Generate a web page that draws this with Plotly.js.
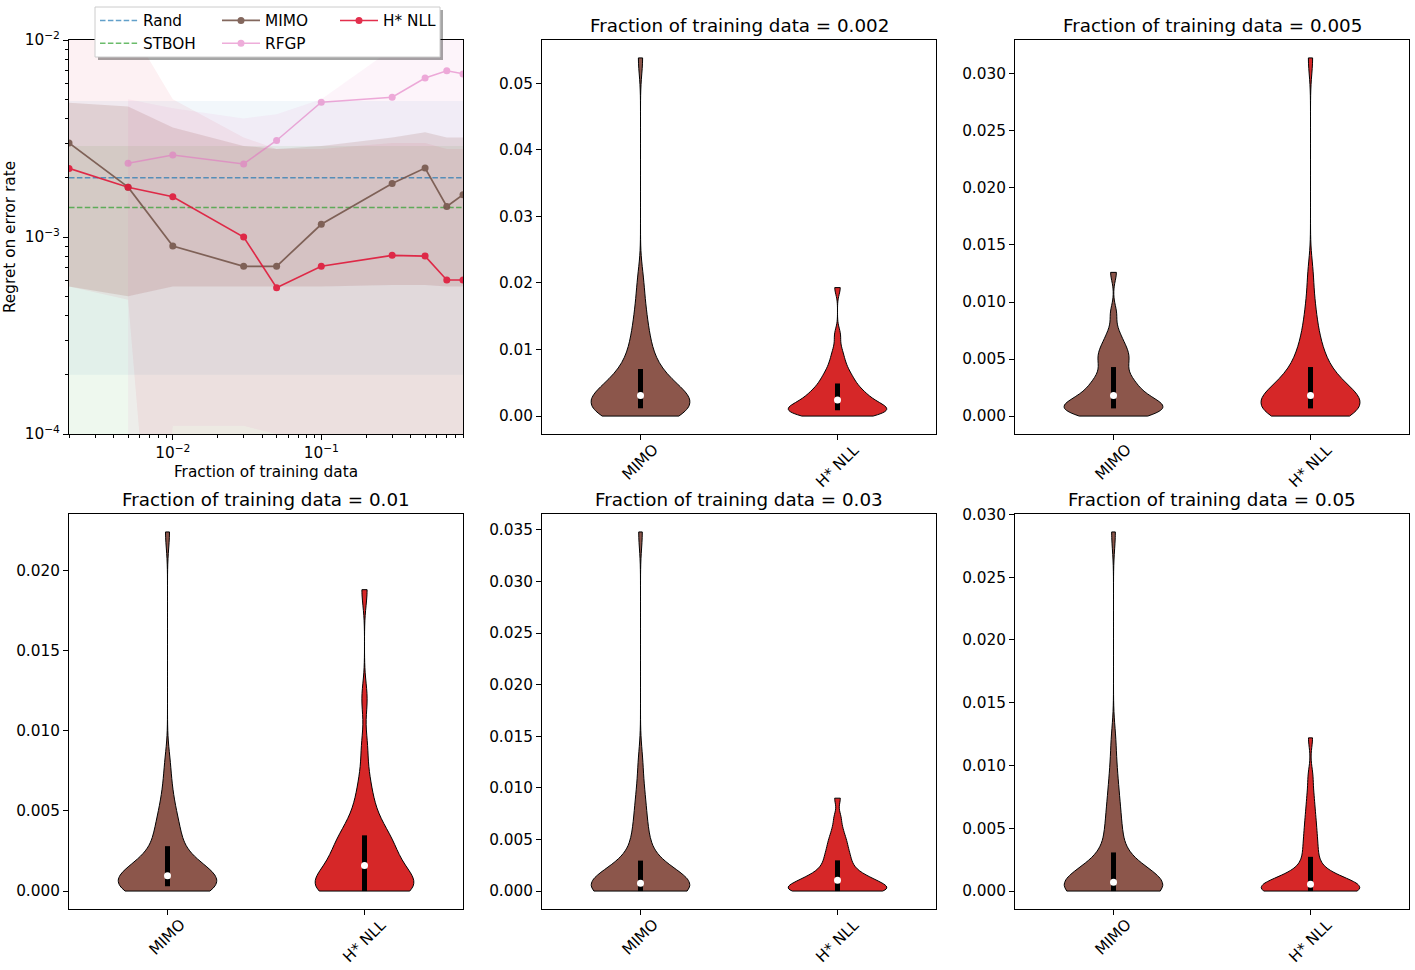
<!DOCTYPE html>
<html>
<head>
<meta charset="utf-8">
<script src="https://cdn.plot.ly/plotly-3.0.1.min.js"></script>
<style>
  body { margin: 0; background: #fff; }
  #chart { width: 1415px; height: 970px; }
</style>
</head>
<body>
<div id="chart"></div>
<script>
// ---- panel 1: regret vs fraction of training data (log-log) ----
const fractions = [0.002, 0.005, 0.01, 0.03, 0.05, 0.1, 0.3, 0.5, 0.7, 0.9];

const randRegret = 2.0e-3, randLow = 2.0e-4, randHigh = 4.9e-3;
const stbohRegret = 1.41e-3, stbohLow = 1e-6, stbohHigh = 2.9e-3;

const mimoRegret = [3.0e-3, 1.79e-3, 9.0e-4, 7.1e-4, 7.1e-4, 1.16e-3, 1.87e-3, 2.24e-3, 1.43e-3, 1.64e-3];
const mimoLow    = [5.6e-4, 5.0e-4, 5.6e-4, 5.6e-4, 5.6e-4, 5.6e-4, 5.7e-4, 5.7e-4, 5.6e-4, 5.6e-4];
const mimoHigh   = [4.8e-3, 4.6e-3, 3.6e-3, 2.9e-3, 2.8e-3, 2.9e-3, 3.2e-3, 3.4e-3, 3.2e-3, 3.2e-3];

const rfgpRegret = [null, 2.37e-3, 2.61e-3, 2.35e-3, 3.09e-3, 4.83e-3, 5.12e-3, 6.41e-3, 6.98e-3, 6.73e-3];
const rfgpLow    = [null, 1e-6, 1.1e-4, 1.1e-4, 1.0e-4, 9e-5, 1e-6, 1e-6, 1e-6, 1e-6];
const rfgpHigh   = [null, 5.0e-3, 4.5e-3, 4.0e-3, 4.2e-3, 5.0e-3, 9.0e-3, 1.3e-2, 1.5e-2, 1.5e-2];

const hnllRegret = [2.23e-3, 1.79e-3, 1.60e-3, 1.0e-3, 5.53e-4, 7.1e-4, 8.07e-4, 8.0e-4, 6.05e-4, 6.05e-4];
const hnllLow    = [5.6e-4, 4.8e-4, 1e-6, 1e-6, 1e-6, 1e-6, 1e-6, 1e-6, 1e-6, 1e-6];
const hnllHigh   = [1.5e-2, 1.2e-2, 5.0e-3, 3.2e-3, 2.8e-3, 2.8e-3, 3.0e-3, 3.0e-3, 2.8e-3, 2.8e-3];

// ---- violin panels: per-task regret samples ----
const methods = ['MIMO', 'H* NLL'];
const panelFractions = ['0.002', '0.005', '0.01', '0.03', '0.05'];

const mimo002 = [0.0000, 0.0002, 0.0003, 0.0005, 0.0006, 0.0007, 0.0008, 0.0009, 0.0010, 0.0011,
  0.0012, 0.0014, 0.0016, 0.0018, 0.0020, 0.0022, 0.0024, 0.0026, 0.0028, 0.0030,
  0.0032, 0.0035, 0.0038, 0.0041, 0.0045, 0.0049, 0.0054, 0.0059, 0.0064, 0.0069,
  0.0076, 0.0085, 0.0095, 0.0106, 0.0118, 0.0132, 0.0150, 0.0172, 0.0205, 0.0538];
const hnll002 = [0.0000, 0.0001, 0.0002, 0.0003, 0.0004, 0.0005, 0.0006, 0.0007, 0.0007, 0.0008,
  0.0009, 0.0010, 0.0011, 0.0012, 0.0013, 0.0014, 0.0016, 0.0018, 0.0020, 0.0023,
  0.0025, 0.0027, 0.0029, 0.0031, 0.0033, 0.0035, 0.0038, 0.0041, 0.0044, 0.0048,
  0.0052, 0.0056, 0.0060, 0.0065, 0.0071, 0.0079, 0.0088, 0.0100, 0.0122, 0.0193];

const mimo005 = [0.0000, 0.0001, 0.0002, 0.0003, 0.0003, 0.0004, 0.0005, 0.0005, 0.0006, 0.0006,
  0.0007, 0.0008, 0.0009, 0.0010, 0.0011, 0.0012, 0.0013, 0.0014, 0.0015, 0.0017,
  0.0019, 0.0021, 0.0023, 0.0025, 0.0027, 0.0029, 0.0031, 0.0034, 0.0037, 0.0042,
  0.0046, 0.0049, 0.0052, 0.0055, 0.0058, 0.0062, 0.0067, 0.0074, 0.0090, 0.0126];
const hnll005 = [0.0000, 0.0001, 0.0002, 0.0003, 0.0003, 0.0004, 0.0005, 0.0005, 0.0006, 0.0006,
  0.0007, 0.0008, 0.0009, 0.0010, 0.0011, 0.0012, 0.0013, 0.0014, 0.0015, 0.0017,
  0.0019, 0.0021, 0.0023, 0.0025, 0.0027, 0.0029, 0.0031, 0.0034, 0.0037, 0.0042,
  0.0046, 0.0050, 0.0055, 0.0061, 0.0068, 0.0077, 0.0088, 0.0102, 0.0125, 0.0314];

const mimo01 = [0.0000, 0.0000, 0.0001, 0.0001, 0.0001, 0.0002, 0.0002, 0.0002, 0.0002, 0.0003,
  0.0003, 0.0004, 0.0004, 0.0005, 0.0005, 0.0006, 0.0007, 0.0007, 0.0008, 0.0009,
  0.0010, 0.0011, 0.0012, 0.0013, 0.0014, 0.0016, 0.0018, 0.0020, 0.0023, 0.0027,
  0.0031, 0.0034, 0.0037, 0.0041, 0.0045, 0.0050, 0.0057, 0.0066, 0.0080, 0.0224];
const hnll01 = [0.0000, 0.0000, 0.0000, 0.0000, 0.0000, 0.0000, 0.0000, 0.0000, 0.0000, 0.0000,
  0.0000, 0.0002, 0.0004, 0.0006, 0.0008, 0.0010, 0.0011, 0.0012, 0.0013, 0.0015,
  0.0017, 0.0019, 0.0021, 0.0023, 0.0025, 0.0027, 0.0029, 0.0031, 0.0033, 0.0034,
  0.0037, 0.0040, 0.0044, 0.0049, 0.0055, 0.0062, 0.0072, 0.0090, 0.0120, 0.0188];

const mimo03 = [0.0000, 0.0000, 0.0000, 0.0000, 0.0000, 0.0000, 0.0000, 0.0000, 0.0000, 0.0000,
  0.0000, 0.0001, 0.0002, 0.0003, 0.0004, 0.0005, 0.0005, 0.0006, 0.0007, 0.0007,
  0.0008, 0.0009, 0.0010, 0.0011, 0.0012, 0.0014, 0.0016, 0.0019, 0.0023, 0.0028,
  0.0034, 0.0040, 0.0047, 0.0055, 0.0064, 0.0074, 0.0086, 0.0100, 0.0125, 0.0348];
const hnll03 = [0.0000, 0.0000, 0.0000, 0.0000, 0.0000, 0.0000, 0.0000, 0.0000, 0.0000, 0.0000,
  0.0000, 0.0002, 0.0003, 0.0005, 0.0006, 0.0007, 0.0008, 0.0009, 0.0010, 0.0010,
  0.0011, 0.0012, 0.0013, 0.0015, 0.0017, 0.0019, 0.0021, 0.0023, 0.0026, 0.0029,
  0.0032, 0.0035, 0.0038, 0.0042, 0.0046, 0.0050, 0.0055, 0.0062, 0.0072, 0.0090];

const mimo05 = [0.0000, 0.0000, 0.0000, 0.0000, 0.0000, 0.0000, 0.0000, 0.0000, 0.0000, 0.0000,
  0.0000, 0.0001, 0.0002, 0.0002, 0.0003, 0.0004, 0.0005, 0.0005, 0.0006, 0.0007,
  0.0007, 0.0008, 0.0009, 0.0010, 0.0012, 0.0014, 0.0016, 0.0019, 0.0023, 0.0029,
  0.0036, 0.0042, 0.0049, 0.0056, 0.0064, 0.0073, 0.0084, 0.0098, 0.0120, 0.0286];
const hnll05 = [0.0000, 0.0000, 0.0000, 0.0000, 0.0000, 0.0000, 0.0000, 0.0000, 0.0000, 0.0000,
  0.0000, 0.0000, 0.0001, 0.0001, 0.0002, 0.0003, 0.0003, 0.0004, 0.0004, 0.0005,
  0.0006, 0.0006, 0.0007, 0.0008, 0.0010, 0.0012, 0.0014, 0.0017, 0.0021, 0.0026,
  0.0031, 0.0036, 0.0041, 0.0047, 0.0053, 0.0060, 0.0068, 0.0078, 0.0092, 0.0122];

const mimoSets = [mimo002, mimo005, mimo01, mimo03, mimo05];
const hnllSets = [hnll002, hnll005, hnll01, hnll03, hnll05];

// ---- colours ----
const C = {
  rand: '#1f77b4', stboh: '#2ca02c', mimo: '#8c564b', rfgp: '#e377c2',
  hnll: '#e0193a', mimoViolin: '#8c564b', hnllViolin: '#d62728'
};

// ---- helpers ----
function pct(arr, p) {
  const s = [...arr].sort((a, b) => a - b);
  const i = p * (s.length - 1), lo = Math.floor(i), hi = Math.ceil(i);
  return s[lo] + (s[hi] - s[lo]) * (i - lo);
}
// Scott's rule, narrowed a little so the kde keeps the sharp necks of the original
function kdeBw(arr) {
  const n = arr.length, m = arr.reduce((a, b) => a + b, 0) / n;
  const sd = Math.sqrt(arr.reduce((a, b) => a + (b - m) ** 2, 0) / (n - 1));
  return 0.55 * sd * Math.pow(n, -0.2);
}
function keep(xs, ys) {
  const ox = [], oy = [];
  ys.forEach((v, i) => { if (v !== null) { ox.push(xs[i]); oy.push(v); } });
  return [ox, oy];
}
function rgba(hex, a) {
  const n = parseInt(hex.slice(1), 16);
  return `rgba(${n >> 16},${(n >> 8) & 255},${n & 255},${a})`;
}

const traces = [];

// shaded bands (lower trace, then upper trace filled to it)
function band(low, high, color, alpha) {
  const [xl, yl] = keep(fractions, low);
  const [xh, yh] = keep(fractions, high);
  traces.push({ x: xl, y: yl, mode: 'lines', line: { width: 0 }, showlegend: false, hoverinfo: 'skip', xaxis: 'x', yaxis: 'y' });
  traces.push({ x: xh, y: yh, mode: 'lines', line: { width: 0 }, fill: 'tonexty', fillcolor: rgba(color, alpha),
    showlegend: false, hoverinfo: 'skip', xaxis: 'x', yaxis: 'y' });
}
const xEnds = [fractions[0], fractions[fractions.length - 1]];
band(fractions.map(() => randLow), fractions.map(() => randHigh), C.rand, 0.06);
band(fractions.map(() => stbohLow), fractions.map(() => stbohHigh), C.stboh, 0.08);
band(mimoLow, mimoHigh, C.mimo, 0.17);
band(rfgpLow, rfgpHigh, C.rfgp, 0.08);
band(hnllLow, hnllHigh, C.hnll, 0.06);

// lines
traces.push({ name: 'Rand', x: xEnds, y: [randRegret, randRegret], mode: 'lines', legend: 'legend',
  line: { color: C.rand, width: 1.5, dash: '5.5px,2.4px' }, opacity: 0.7, xaxis: 'x', yaxis: 'y' });
traces.push({ name: 'STBOH', x: xEnds, y: [stbohRegret, stbohRegret], mode: 'lines', legend: 'legend',
  line: { color: C.stboh, width: 1.5, dash: '5.5px,2.4px' }, opacity: 0.7, xaxis: 'x', yaxis: 'y' });
traces.push({ name: 'MIMO', x: fractions, y: mimoRegret, mode: 'lines+markers', legend: 'legend2',
  line: { color: '#76574c', width: 1.7 }, marker: { color: '#76574c', size: 7 }, opacity: 0.9, xaxis: 'x', yaxis: 'y' });
{
  const [rx, ry] = keep(fractions, rfgpRegret);
  traces.push({ name: 'RFGP', x: rx, y: ry, mode: 'lines+markers', legend: 'legend2',
    line: { color: C.rfgp, width: 1.5 }, marker: { color: C.rfgp, size: 7 }, opacity: 0.6, xaxis: 'x', yaxis: 'y' });
}
traces.push({ name: 'H* NLL', x: fractions, y: hnllRegret, mode: 'lines+markers', legend: 'legend3',
  line: { color: C.hnll, width: 1.6 }, marker: { color: C.hnll, size: 7 }, opacity: 0.9, xaxis: 'x', yaxis: 'y' });

// ---- layout ----
const W = 1415, H = 970;
const colX = [[69, 463], [542, 936], [1015, 1409]];
const rowY = [[40, 434], [514, 909]];
const dx = c => [colX[c][0] / W, colX[c][1] / W];
const dy = r => [1 - rowY[r][1] / H, 1 - rowY[r][0] / H];

const tickFont = { family: 'DejaVu Sans', size: 15.3, color: 'black' };
function frame(extra) {
  return Object.assign({
    showline: true, mirror: true, linecolor: 'black', linewidth: 1,
    ticks: 'outside', ticklen: 5, tickcolor: 'black', tickwidth: 1,
    showgrid: false, zeroline: false, tickfont: tickFont, fixedrange: true
  }, extra);
}
const legendBase = { xanchor: 'left', y: 1 - 4 / H, yanchor: 'top', bgcolor: 'rgba(0,0,0,0)', borderwidth: 0,
  itemwidth: 38, tracegroupgap: 0, traceorder: 'normal', font: { size: 15.3 } };

const layout = {
  width: W, height: H,
  margin: { l: 0, r: 0, t: 0, b: 0 },
  paper_bgcolor: 'white', plot_bgcolor: 'white',
  font: { family: 'DejaVu Sans', size: 15.3, color: 'black' },
  showlegend: true,
  violinmode: 'overlay',
  annotations: [],
  shapes: [],
  xaxis: frame({
    type: 'log', domain: dx(0), anchor: 'y',
    range: [Math.log10(fractions[0]), Math.log10(fractions[fractions.length - 1])],
    tickvals: [0.01, 0.1], ticktext: ['10<sup>−2</sup>', '10<sup>−1</sup>'],
    minor: { ticks: 'outside', ticklen: 3, tickcolor: 'black', showgrid: false,
      tickvals: [0.002, 0.003, 0.004, 0.005, 0.006, 0.007, 0.008, 0.009, 0.02, 0.03, 0.04, 0.05, 0.06, 0.07, 0.08, 0.09,
        0.2, 0.3, 0.4, 0.5, 0.6, 0.7, 0.8, 0.9] },
    title: { text: 'Fraction of training data', font: { size: 15.3 }, standoff: 4 }
  }),
  yaxis: frame({
    type: 'log', domain: dy(0), anchor: 'x',
    range: [-4, -2],
    tickvals: [1e-4, 1e-3, 1e-2], ticktext: ['10<sup>−4</sup>', '10<sup>−3</sup>', '10<sup>−2</sup>'],
    minor: { ticks: 'outside', ticklen: 3, tickcolor: 'black', showgrid: false,
      tickvals: [2e-4, 3e-4, 4e-4, 5e-4, 6e-4, 7e-4, 8e-4, 9e-4, 2e-3, 3e-3, 4e-3, 5e-3, 6e-3, 7e-3, 8e-3, 9e-3] },
    title: { text: 'Regret on error rate', font: { size: 15.3 }, standoff: 5 }
  }),
  legend:  Object.assign({ x: 95 / W }, legendBase),
  legend2: Object.assign({ x: 217 / W }, legendBase),
  legend3: Object.assign({ x: 335 / W }, legendBase)
};

// legend frame with a soft shadow
layout.shapes.push({ type: 'rect', xref: 'paper', yref: 'paper', layer: 'above',
  x0: 98 / W, x1: 443 / W, y0: 1 - 60 / H, y1: 1 - 10 / H,
  fillcolor: 'rgba(0,0,0,0.35)', line: { width: 0 } });
layout.shapes.push({ type: 'rect', xref: 'paper', yref: 'paper', layer: 'above',
  x0: 95 / W, x1: 440 / W, y0: 1 - 57 / H, y1: 1 - 7 / H,
  fillcolor: 'white', line: { color: '#cccccc', width: 1 } });

// violin panels
const slots = [[0, 1], [0, 2], [1, 0], [1, 1], [1, 2]];
panelFractions.forEach((frac, i) => {
  const k = i + 2, xa = 'x' + k, ya = 'y' + k;
  const [r, c] = slots[i];
  const sets = [mimoSets[i], hnllSets[i]];
  const fills = [C.mimoViolin, C.hnllViolin];

  sets.forEach((s, j) => {
    traces.push({
      type: 'violin', x: s.map(() => methods[j]), y: s, xaxis: xa, yaxis: ya,
      fillcolor: fills[j], line: { color: 'black', width: 1 }, opacity: 1,
      points: false, spanmode: 'hard', width: 0.5, scalemode: 'width',
      bandwidth: kdeBw(s), box: { visible: false }, meanline: { visible: false },
      showlegend: false, hoverinfo: 'skip'
    });
  });
  // interquartile bars and medians
  const qx = [], qy = [], mx = [], my = [];
  sets.forEach((s, j) => {
    qx.push(methods[j], methods[j], null);
    qy.push(pct(s, 0.25), pct(s, 0.75), null);
    mx.push(methods[j]); my.push(pct(s, 0.5));
  });
  traces.push({ x: qx, y: qy, mode: 'lines', line: { color: 'black', width: 5 }, xaxis: xa, yaxis: ya, showlegend: false, hoverinfo: 'skip' });
  traces.push({ x: mx, y: my, mode: 'markers', marker: { color: 'white', size: 7 }, xaxis: xa, yaxis: ya, showlegend: false, hoverinfo: 'skip' });

  const all = sets[0].concat(sets[1]);
  const lo = Math.min(...all), hi = Math.max(...all), pad = 0.05 * (hi - lo);
  const small = frac === '0.002';
  layout['xaxis' + k] = frame({
    domain: dx(c), anchor: ya, type: 'category', categoryorder: 'array', categoryarray: methods,
    range: [-0.5, 1.5], showticklabels: false
  });
  layout['yaxis' + k] = frame({
    domain: dy(r), anchor: xa, range: [lo - pad, hi + pad],
    dtick: small ? 0.01 : 0.005, tick0: 0, tickformat: small ? '.2f' : '.3f'
  });
  // subplot title
  layout.annotations.push({
    text: 'Fraction of training data = ' + frac, xref: 'paper', yref: 'paper',
    x: (dx(c)[0] + dx(c)[1]) / 2, y: dy(r)[1], xanchor: 'center', yanchor: 'bottom', yshift: 2,
    showarrow: false, font: { size: 18.3 }
  });
  // rotated category labels
  methods.forEach(m => {
    layout.annotations.push({
      text: m, xref: xa, yref: 'paper', x: m, y: dy(r)[0], xanchor: 'center', yanchor: 'top',
      yshift: -4, textangle: -45, showarrow: false, font: tickFont
    });
  });
});

Plotly.newPlot('chart', traces, layout, { staticPlot: true, displayModeBar: false });
</script>
</body>
</html>
